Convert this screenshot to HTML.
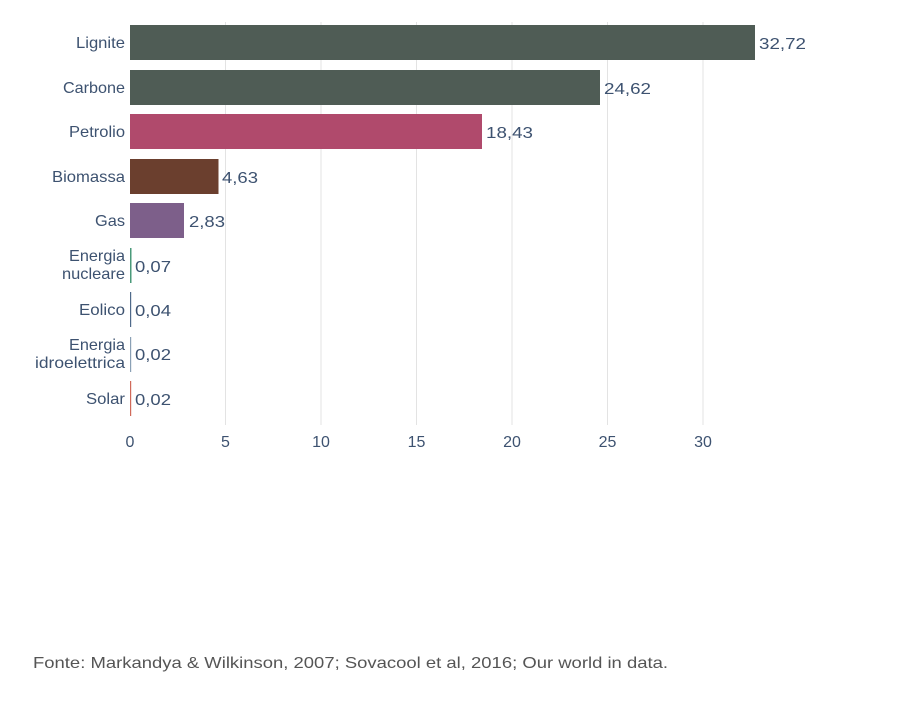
<!DOCTYPE html>
<html><head><style>
body{margin:0;background:#fff;}
svg text{font-family:"Liberation Sans",sans-serif;}
</style></head><body>
<svg width="914" height="706" xmlns="http://www.w3.org/2000/svg">
<rect width="914" height="706" fill="#fff"/>
<g stroke="#e3e3e3" stroke-width="1">
<line x1="225.5" y1="22" x2="225.5" y2="425"/>
<line x1="321" y1="22" x2="321" y2="425"/>
<line x1="416.5" y1="22" x2="416.5" y2="425"/>
<line x1="512" y1="22" x2="512" y2="425"/>
<line x1="607.5" y1="22" x2="607.5" y2="425"/>
<line x1="703" y1="22" x2="703" y2="425"/>
</g>
<rect x="130" y="25" width="625" height="35" fill="#4f5c55"/>
<rect x="130" y="70" width="470" height="35" fill="#4f5c55"/>
<rect x="130" y="114" width="352" height="35" fill="#b04a6c"/>
<rect x="130" y="159" width="88.5" height="35" fill="#6b3f2e"/>
<rect x="130" y="203" width="54" height="35" fill="#7d5f8a"/>
<rect x="130" y="248" width="1.5" height="35" fill="#4a9a7a"/>
<rect x="130" y="292" width="1.2" height="35" fill="#4f6a8a"/>
<rect x="130" y="337" width="1.2" height="35" fill="#8aa0b5"/>
<rect x="130" y="381" width="1.2" height="35" fill="#d06a5a"/>
<g fill="#3d5270" font-size="16" text-anchor="end" lengthAdjust="spacingAndGlyphs">
<text x="125" y="48" textLength="49" lengthAdjust="spacingAndGlyphs">Lignite</text>
<text x="125" y="93" textLength="62" lengthAdjust="spacingAndGlyphs">Carbone</text>
<text x="125" y="137" textLength="56" lengthAdjust="spacingAndGlyphs">Petrolio</text>
<text x="125" y="182" textLength="73" lengthAdjust="spacingAndGlyphs">Biomassa</text>
<text x="125" y="226" textLength="30" lengthAdjust="spacingAndGlyphs">Gas</text>
<text x="125" y="261" textLength="56" lengthAdjust="spacingAndGlyphs">Energia</text>
<text x="125" y="279" textLength="63" lengthAdjust="spacingAndGlyphs">nucleare</text>
<text x="125" y="315" textLength="46" lengthAdjust="spacingAndGlyphs">Eolico</text>
<text x="125" y="350" textLength="56" lengthAdjust="spacingAndGlyphs">Energia</text>
<text x="125" y="368" textLength="90" lengthAdjust="spacingAndGlyphs">idroelettrica</text>
<text x="125" y="404" textLength="39" lengthAdjust="spacingAndGlyphs">Solar</text>
</g>
<g fill="#3d5270" font-size="16">
<text x="759" y="49" textLength="47" lengthAdjust="spacingAndGlyphs">32,72</text>
<text x="604" y="94" textLength="47" lengthAdjust="spacingAndGlyphs">24,62</text>
<text x="486" y="138" textLength="47" lengthAdjust="spacingAndGlyphs">18,43</text>
<text x="222" y="183" textLength="36" lengthAdjust="spacingAndGlyphs">4,63</text>
<text x="189" y="227" textLength="36" lengthAdjust="spacingAndGlyphs">2,83</text>
<text x="135" y="272" textLength="36" lengthAdjust="spacingAndGlyphs">0,07</text>
<text x="135" y="316" textLength="36" lengthAdjust="spacingAndGlyphs">0,04</text>
<text x="135" y="360" textLength="36" lengthAdjust="spacingAndGlyphs">0,02</text>
<text x="135" y="405" textLength="36" lengthAdjust="spacingAndGlyphs">0,02</text>
</g>
<g fill="#3d5270" font-size="16" text-anchor="middle">
<text x="130" y="447">0</text>
<text x="225.5" y="447">5</text>
<text x="321" y="447">10</text>
<text x="416.5" y="447">15</text>
<text x="512" y="447">20</text>
<text x="607.5" y="447">25</text>
<text x="703" y="447">30</text>
</g>
<text x="33" y="668" fill="#555" font-size="16" textLength="635" lengthAdjust="spacingAndGlyphs">Fonte: Markandya &amp; Wilkinson, 2007; Sovacool et al, 2016; Our world in data.</text>
</svg>
</body></html>
